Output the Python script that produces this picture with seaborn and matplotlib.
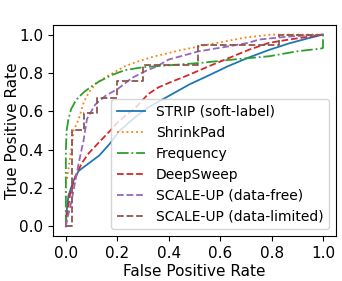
import matplotlib
matplotlib.use("Agg")
import matplotlib.pyplot as plt
import seaborn as sns
import pandas as pd

# ROC points (FPR, TPR)
strip_fpr = [0, 0.003, 0.01, 0.03, 0.05, 0.09, 0.13, 0.17, 0.21, 0.27, 0.32, 0.40, 0.48, 0.56, 0.63, 0.71, 0.79, 0.87, 0.94, 1.0]
strip_tpr = [0, 0.08, 0.16, 0.24, 0.29, 0.33, 0.37, 0.43, 0.50, 0.57, 0.62, 0.68, 0.74, 0.79, 0.835, 0.88, 0.92, 0.955, 0.98, 1.0]

shrink_fpr = [0, 0.0, 0.005, 0.01, 0.023, 0.03, 0.05, 0.07, 0.09, 0.12, 0.17, 0.23, 0.28, 0.34, 0.45, 0.58, 0.70, 0.80, 1.0]
shrink_tpr = [0, 0.22, 0.25, 0.30, 0.42, 0.50, 0.56, 0.65, 0.70, 0.75, 0.79, 0.835, 0.86, 0.885, 0.92, 0.955, 0.985, 1.0, 1.0]

freq_fpr = [0, 0.0, 0.003, 0.01, 0.02, 0.04, 0.07, 0.10, 0.13, 0.18, 0.23, 0.30, 0.40, 0.52, 0.65, 0.79, 0.90, 0.99, 1.0, 1.0]
freq_tpr = [0, 0.40, 0.50, 0.56, 0.61, 0.66, 0.70, 0.73, 0.756, 0.79, 0.815, 0.83, 0.84, 0.852, 0.87, 0.887, 0.913, 0.927, 0.93, 1.0]

deep_fpr = [0, 0.004, 0.017, 0.037, 0.062, 0.088, 0.127, 0.166, 0.205, 0.27, 0.32, 0.36, 0.40, 0.478, 0.556, 0.634, 0.71, 0.79, 0.867, 0.95, 1.0]
deep_tpr = [0, 0.05, 0.175, 0.26, 0.33, 0.38, 0.436, 0.49, 0.548, 0.618, 0.69, 0.725, 0.748, 0.79, 0.835, 0.878, 0.92, 0.957, 0.974, 0.99, 1.0]

free_fpr = [0, 0.004, 0.017, 0.03, 0.05, 0.069, 0.082, 0.114, 0.153, 0.205, 0.257, 0.31, 0.355, 0.40, 0.517, 0.634, 0.71, 0.75, 0.867, 1.0]
free_tpr = [0, 0.035, 0.10, 0.19, 0.33, 0.45, 0.56, 0.635, 0.68, 0.72, 0.774, 0.81, 0.835, 0.87, 0.913, 0.939, 0.957, 0.974, 0.99, 1.0]

lim_fpr = [0, 0.023, 0.023, 0.07, 0.07, 0.12, 0.12, 0.20, 0.20, 0.30, 0.30, 0.515, 0.515, 0.83, 0.83, 1.0]
lim_tpr = [0, 0, 0.504, 0.504, 0.59, 0.59, 0.67, 0.67, 0.757, 0.757, 0.843, 0.843, 0.948, 0.948, 1.0, 1.0]

methods = ["STRIP (soft-label)", "ShrinkPad", "Frequency", "DeepSweep",
           "SCALE-UP (data-free)", "SCALE-UP (data-limited)"]
curves = [(strip_fpr, strip_tpr), (shrink_fpr, shrink_tpr), (freq_fpr, freq_tpr),
          (deep_fpr, deep_tpr), (free_fpr, free_tpr), (lim_fpr, lim_tpr)]
styles = ["-", ":", "-.", "--", "--", "--"]
colors = sns.color_palette("tab10")[:6]

fig, ax = plt.subplots(figsize=(3.42, 2.81), dpi=100)
fig.subplots_adjust(left=0.155, right=0.982, bottom=0.160, top=0.911)

for name, (fx, ty), ls, c in zip(methods, curves, styles, colors):
    df = pd.DataFrame({"fpr": fx, "tpr": ty})
    sns.lineplot(data=df, x="fpr", y="tpr", sort=False, estimator=None,
                 color=c, linestyle=ls, linewidth=1.3, label=name, ax=ax)

ax.set_xlabel("False Positive Rate", fontsize=11, labelpad=2)
ax.set_ylabel("True Positive Rate", fontsize=11)
ax.yaxis.set_label_coords(-0.117, 0.5)
ax.set_xticks([0, 0.2, 0.4, 0.6, 0.8, 1.0])
ax.set_yticks([0, 0.2, 0.4, 0.6, 0.8, 1.0])
ax.tick_params(labelsize=11)
ax.legend(loc="lower right", fontsize=10)

fig.savefig("out.png", dpi=100)
